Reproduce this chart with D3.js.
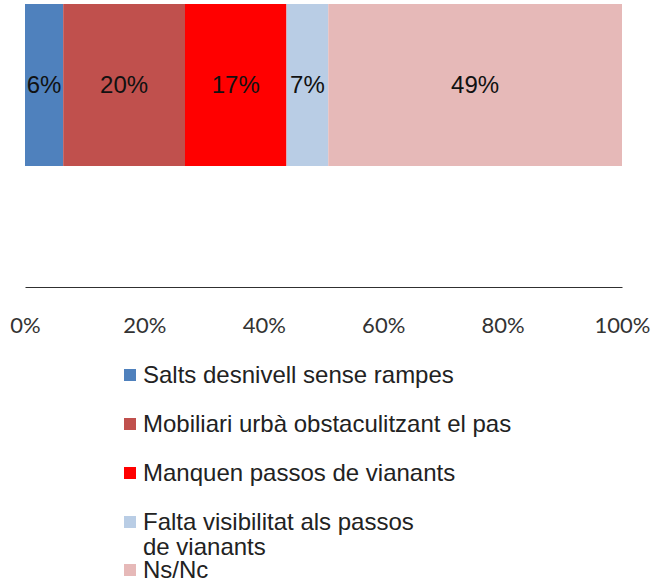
<!DOCTYPE html>
<html>
<head>
<meta charset="utf-8">
<script src="https://cdn.jsdelivr.net/npm/d3@7"></script>
<style>
  body { margin: 0; background: #fff; }
  svg { display: block; }
</style>
</head>
<body>
<svg id="the-svg" width="654" height="583"></svg>
<script>
// data
var categories = [
    "Salts desnivell sense rampes",
    "Mobiliari urbà obstaculitzant el pas",
    "Manquen passos de vianants",
    "Falta visibilitat als passos de vianants",
    "Ns/Nc"
];
var values = [6.4, 20.4, 17.0, 7.0, 49.2];
var valueLabels = ["6%", "20%", "17%", "7%", "49%"];
var legendLines = [
    ["Salts desnivell sense rampes"],
    ["Mobiliari urbà obstaculitzant el pas"],
    ["Manquen passos de vianants"],
    ["Falta visibilitat als passos", "de vianants"],
    ["Ns/Nc"]
];
var colors = ["#4F81BD", "#C0504D", "#FF0000", "#B9CDE5", "#E6B9B8"];
var tickValues = [0, 20, 40, 60, 80, 100];

var theSvg = d3.select("#the-svg");

var x = d3.scaleLinear().domain([0, 100]).range([25, 622]);
var y = d3.scaleBand().domain(["all"]).range([4, 166]).padding(0);

var ends = d3.cumsum(values);
var segs = values.map(function(v, i) {
    return { name: categories[i], start: ends[i] - v, end: ends[i], label: valueLabels[i], color: colors[i] };
});

var bars = theSvg.selectAll(".seg").data(segs)
    .enter().append("g")
        .attr("class", "seg");
bars.append("rect")
    .attr("x", function(d) { return x(d.start); })
    .attr("y", y("all"))
    .attr("width", function(d) { return x(d.end) - x(d.start); })
    .attr("height", y.bandwidth())
    .attr("fill", function(d) { return d.color; });
bars.append("text")
    .attr("x", function(d) { return (x(d.start) + x(d.end)) / 2; })
    .attr("y", y("all") + y.bandwidth() / 2)
    .attr("dy", "0.35em")
    .attr("text-anchor", "middle")
    .attr("font-family", "Liberation Sans, Arial, sans-serif")
    .attr("font-size", 24)
    .attr("fill", "#111")
    .text(function(d) { return d.label; });

// axis
var axis = theSvg.append("g")
    .attr("transform", "translate(0,287)")
    .call(d3.axisBottom(x)
        .tickValues(tickValues)
        .tickSize(0)
        .tickPadding(30)
        .tickFormat(function(d) { return d + "%"; }));
axis.select(".domain").attr("stroke", "#303030");
axis.selectAll("text")
    .attr("font-family", "Lato, sans-serif")
    .attr("font-size", 22)
    .attr("fill", "#333");

// legend
var rowY = [375, 424, 473, 522, 570];
var legend = theSvg.selectAll(".legend-item").data(legendLines)
    .enter().append("g")
        .attr("class", "legend-item")
        .attr("transform", function(d, i) { return "translate(124," + rowY[i] + ")"; });
legend.append("rect")
    .attr("x", 0)
    .attr("y", -6)
    .attr("width", 12)
    .attr("height", 12)
    .attr("fill", function(d, i) { return colors[i]; });
legend.append("text")
    .attr("font-family", "Liberation Sans, Arial, sans-serif")
    .attr("font-size", 24)
    .attr("fill", "#222")
    .selectAll("tspan").data(function(d) { return d; })
    .enter().append("tspan")
        .attr("x", 19)
        .attr("y", function(d, j) { return j * 25; })
        .attr("dy", "0.35em")
        .text(function(d) { return d; });
</script>
</body>
</html>
